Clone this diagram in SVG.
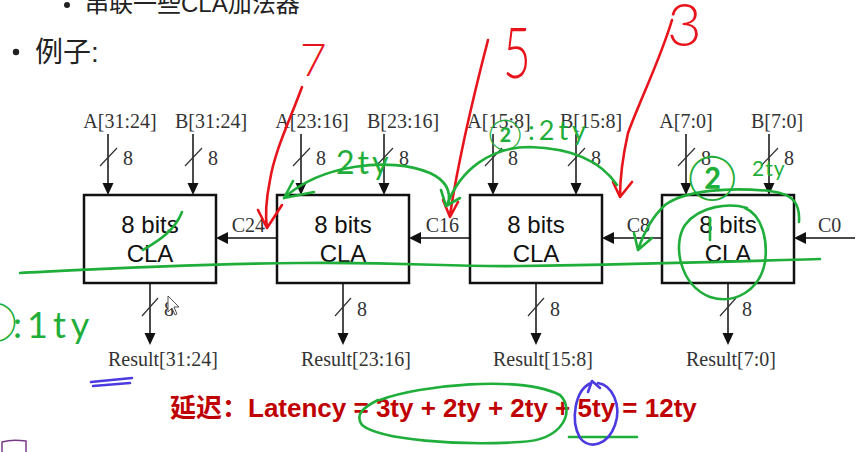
<svg xmlns="http://www.w3.org/2000/svg" width="861" height="452" viewBox="0 0 861 452">
<style>
.slide{font-family:"Liberation Sans","Noto Sans CJK SC",sans-serif;fill:#222}
.lbl{font-family:"Liberation Serif","Times New Roman",serif;font-size:20px;fill:#333}
.box{fill:#fff;stroke:#111;stroke-width:2.5}
.boxt{font-family:"Liberation Sans",Arial,sans-serif;font-size:24px;fill:#111;text-anchor:middle}
.wire{stroke:#111;stroke-width:1.5;fill:none}
.slash{stroke:#333;stroke-width:1.2}
.head{fill:#111}
.red{stroke:#e8141c;stroke-width:2.6;fill:none;stroke-linecap:round;stroke-linejoin:round}
.grn{stroke:#1fae3a;stroke-width:2.6;fill:none;stroke-linecap:round;stroke-linejoin:round}
.blu{stroke:#4b3be0;stroke-width:2.6;fill:none;stroke-linecap:round;stroke-linejoin:round}
.rt{font-family:"Lato","Liberation Sans",sans-serif;font-weight:300;fill:#e8141c}
.gt{font-family:"Lato","Liberation Sans","Noto Sans CJK SC",sans-serif;font-weight:400;fill:#1fae3a}
.lat{font-family:"Liberation Sans","Noto Sans CJK SC",sans-serif;font-size:26px;font-weight:bold;fill:#c00000}
</style>
<rect width="861" height="452" fill="#fff"/>

<!-- slide text -->
<g id="title">
<circle cx="67" cy="5" r="3" fill="#222"/>
<text class="slide" x="85" y="12" font-size="24">串联一些CLA加法器</text>
<circle cx="16" cy="52" r="3.2" fill="#222"/>
<text class="slide" x="35" y="62" font-size="28">例子:</text>
</g>

<!-- nodes -->
<g id="cla1">
<rect class="box" x="84" y="195" width="132" height="88"/>
<text class="boxt" x="150" y="233">8 bits</text>
<text class="boxt" x="150" y="262">CLA</text>
</g>
<g id="cla2">
<rect class="box" x="277" y="195" width="132" height="88"/>
<text class="boxt" x="343" y="233">8 bits</text>
<text class="boxt" x="343" y="262">CLA</text>
</g>
<g id="cla3">
<rect class="box" x="470" y="195" width="132" height="88"/>
<text class="boxt" x="536" y="233">8 bits</text>
<text class="boxt" x="536" y="262">CLA</text>
</g>
<g id="cla4">
<rect class="box" x="662" y="195" width="132" height="88"/>
<text class="boxt" x="728" y="233">8 bits</text>
<text class="boxt" x="728" y="262">CLA</text>
</g>

<!-- input labels -->
<g id="inputs" class="lbl" text-anchor="middle">
<text x="120" y="128">A[31:24]</text>
<text x="211" y="128">B[31:24]</text>
<text x="312" y="128">A[23:16]</text>
<text x="403" y="128">B[23:16]</text>
<text x="499" y="128">A[15:8]</text>
<text x="591" y="128">B[15:8]</text>
<text x="686" y="128">A[7:0]</text>
<text x="777" y="128">B[7:0]</text>
</g>
<g id="outputs" class="lbl" text-anchor="middle">
<text x="163" y="366">Result[31:24]</text>
<text x="356" y="366">Result[23:16]</text>
<text x="543" y="366">Result[15:8]</text>
<text x="731" y="366">Result[7:0]</text>
</g>

<!-- connectors -->
<g id="connectors">
<g class="wire">
<path d="M108,134V184M193,134V184M301,134V184M384,134V184M493,134V184M576,134V184M686,134V184M769,134V184"/>
<path d="M150,283V334M343,283V334M536,283V334M728,283V334"/>
<path d="M277,238H227M470,238H420M662,238H613M855,238H805"/>
</g>
<g class="slash">
<path d="M100,166L117,148M185,166L202,148M293,166L310,148M376,166L393,148M485,166L502,148M568,166L585,148M678,166L695,148M761,166L778,148"/>
<path d="M142,316L158,298M335,316L351,298M528,316L544,298M720,316L736,298"/>
</g>
<g class="head">
<path d="M102.5,183h11L108,195zM187.5,183h11L193,195zM295.5,183h11L301,195zM378.5,183h11L384,195zM487.5,183h11L493,195zM570.5,183h11L576,195zM680.5,183h11L686,195zM763.5,183h11L769,195z"/>
<path d="M144.5,333h11L150,345zM337.5,333h11L343,345zM530.5,333h11L536,345zM722.5,333h11L728,345z"/>
<path d="M216,238l12,-6v12zM409,238l12,-6v12zM602,238l12,-6v12zM794,238l12,-6v12z"/>
</g>
<g class="lbl">
<text x="123" y="165">8</text><text x="208" y="165">8</text>
<text x="316" y="165">8</text><text x="399" y="165">8</text>
<text x="508" y="165">8</text><text x="591" y="165">8</text>
<text x="701" y="165">8</text><text x="784" y="165">8</text>
<text x="164" y="316">8</text><text x="357" y="316">8</text>
<text x="550" y="316">8</text><text x="742" y="316">8</text>
<text x="265" y="232" text-anchor="end">C24</text>
<text x="459" y="232" text-anchor="end">C16</text>
<text x="650" y="232" text-anchor="end">C8</text>
<text x="818" y="232">C0</text>
</g>
</g>

<!-- latency line -->
<text class="lat" x="170" y="417">延迟：Latency = 3ty + 2ty + 2ty + 5ty = 12ty</text>

<!-- red annotations -->
<g id="red-notes">
<text class="rt" x="300" y="76" font-size="46">7</text>
<path class="red" d="M302,87C290,120 275,150 270,180C266,200 265,215 267,228M258,210L267,228L282,205"/>
<text class="rt" x="503" y="78" font-size="64" transform="translate(503,78) scale(0.75,1.1) translate(-503,-78)">5</text>
<path class="red" d="M488,40C475,90 460,150 450,215M443,200L450,217L458,202"/>
<text class="rt" x="667" y="46" font-size="60">3</text>
<path class="red" d="M672,20C660,60 640,100 628,133C622,160 620,180 620,197M613,182L620,197L632,182"/>
</g>

<!-- green annotations -->
<g id="green-notes">
<path class="grn" d="M20,273C80,270 180,264 300,263C420,262 440,267 520,266C650,264 750,261 820,259"/>
<path class="grn" d="M143,250C160,240 175,230 182,212"/>
<path class="grn" d="M448,205C452,190 445,180 430,173C390,156 320,165 284,198M293,181L284,198L314,192"/>
<text class="gt" x="336" y="174" font-size="32" letter-spacing="3">2ty</text>
<path class="grn" d="M617,185C600,160 570,148 530,147C490,147 460,170 447,205M441,190L446,206L460,198"/>
<text class="gt" x="505" y="145" font-size="30" text-anchor="middle">②</text>
<text class="gt" x="528" y="140" font-size="27" letter-spacing="4">:2ty</text>
<path class="grn" d="M799,222C800,205 795,194 770,191C730,187 685,190 665,205C652,217 643,235 638,250M634,233L638,250L652,238"/>
<text class="gt" x="712" y="193" font-size="44" text-anchor="middle">②</text>
<text class="gt" x="752" y="176" font-size="21" letter-spacing="1">2ty</text>
<path class="grn" d="M747,208C730,203 700,205 685,225C672,245 680,285 710,297C735,305 760,290 765,262C768,240 762,215 745,208M710,218L710,240"/>
<text class="gt" x="-4" y="335" font-size="38" text-anchor="middle">①</text>
<text class="gt" x="13" y="338" font-size="36" letter-spacing="5">:1ty</text>
<path class="grn" d="M380,400C420,385 520,375 560,395C575,410 565,440 520,442C460,446 380,440 362,425C355,415 362,408 378,400"/>
<path class="grn" d="M569,437L637,437"/>
</g>

<!-- blue annotations -->
<g id="blue-notes">
<path class="blu" d="M91,382L132,378M93,386L130,383"/>
<path class="blu" d="M591,383C575,390 570,420 580,438C590,450 608,445 615,425C622,405 612,385 598,383M588,392L592,381L600,388"/>
</g>

<!-- cursor and corner logo -->
<path d="M168,296V312L172,308L175,315L177,314L174,307L179,307Z" fill="#fff" stroke="#555" stroke-width="1"/>
<path d="M2,452V442Q12,439 26,441V452" fill="none" stroke="#7a3a8a" stroke-width="1.5"/>
</svg>
